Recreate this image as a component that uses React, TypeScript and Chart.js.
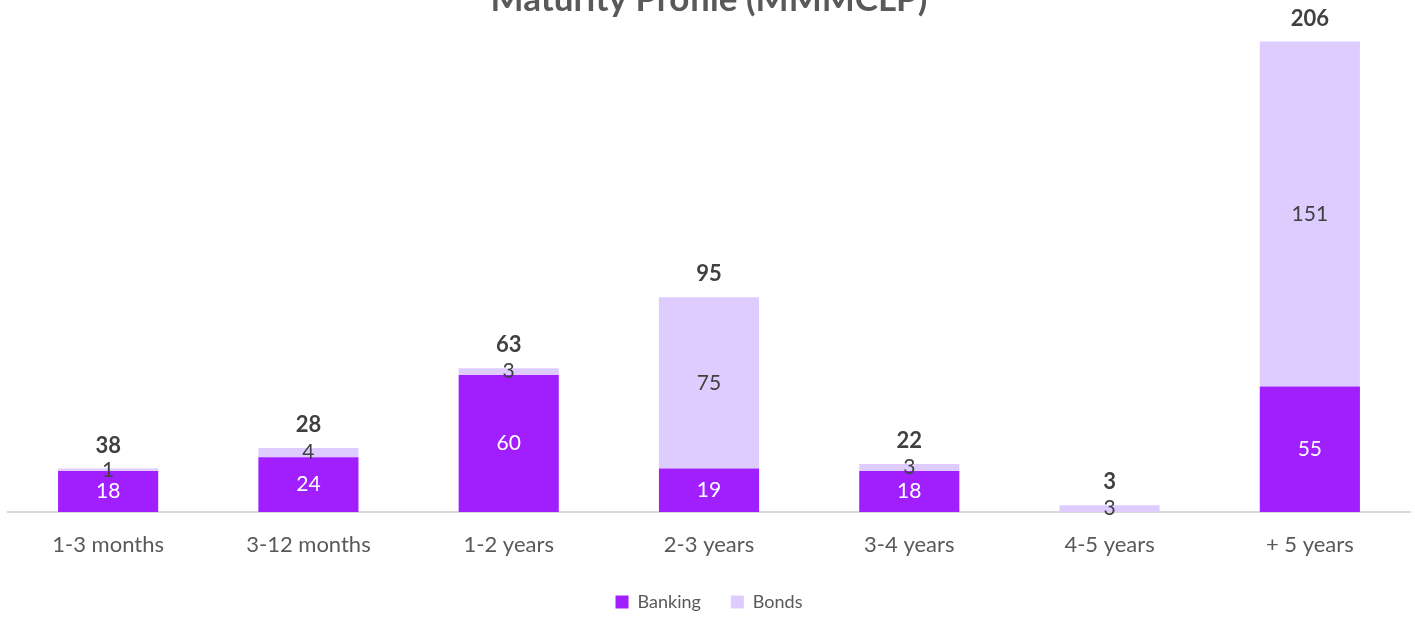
import React, { useEffect, useRef } from "react";
import { Chart, registerables } from "chart.js";

Chart.register(...registerables);

const categories = ["1-3 months", "3-12 months", "1-2 years", "2-3 years", "3-4 years", "4-5 years", "+ 5 years"];
const banking = [18, 24, 60, 19, 18, 0, 55];
const bonds = [1, 4, 3, 75, 3, 3, 151];
const totals = ["38", "28", "63", "95", "22", "3", "206"];
const titleText = "Maturity Profile (MMMCLP)";

const FONT = "Lato, 'Open Sans', sans-serif";
const OFFSET = 31;
const BOTTOM_EXTRA = 2;

const labelPlugin = {
  id: "valueLabels",
  afterDatasetsDraw(chart: any) {
    const ctx = chart.ctx;
    const yScale = chart.scales.y;
    ctx.save();
    ctx.textAlign = "center";
    ctx.textBaseline = "middle";
    chart.data.datasets.forEach((ds: any, di: number) => {
      const meta = chart.getDatasetMeta(di);
      meta.data.forEach((bar: any, i: number) => {
        const v = ds.data[i];
        if (!v) return;
        const mid = (bar.y + bar.base) / 2;
        ctx.font = `21px ${FONT}`;
        ctx.fillStyle = di === 0 ? "#ffffff" : "#404040";
        ctx.fillText(String(v), bar.x, mid);
      });
    });
    const meta0 = chart.getDatasetMeta(0);
    meta0.data.forEach((bar: any, i: number) => {
      const top = yScale.getPixelForValue(banking[i] + bonds[i]);
      ctx.font = `bold 22px ${FONT}`;
      ctx.fillStyle = "#404040";
      ctx.fillText(totals[i], bar.x, top - 23);
    });
    ctx.restore();
  },
};

export default function App() {
  const ref = useRef<HTMLCanvasElement | null>(null);
  useEffect(() => {
    if (!ref.current) return;
    const chart = new Chart(ref.current, {
      type: "bar",
      data: {
        labels: categories,
        datasets: [
          { label: "Banking", data: banking, backgroundColor: "#A11EFF", stack: "s" },
          { label: "Bonds", data: bonds, backgroundColor: "#DECCFF", stack: "s" },
        ],
      },
      options: {
        animation: false,
        responsive: true,
        maintainAspectRatio: false,
        layout: { padding: { left: 8, right: 5, top: 0, bottom: 0 } },
        plugins: {
          title: {
            display: true,
            text: titleText,
            color: "#595959",
            font: { family: FONT, size: 35, weight: "bold" },
            padding: { top: 10, bottom: 0 },
          },
          legend: {
            position: "bottom",
            labels: {
              color: "#595959",
              font: { family: FONT, size: 18 },
              boxWidth: 13,
              boxHeight: 13,
              padding: 30,
            },
          },
          tooltip: { enabled: false },
        },
        scales: {
          x: {
            stacked: true,
            grid: { display: false, drawTicks: false },
            border: { color: "#d9d9d9", width: 2 },
            ticks: { color: "#595959", font: { family: FONT, size: 22 }, padding: 20 },
            afterFit: (scale: any) => {
              scale.height = 51;
            },
          },
          y: {
            stacked: true,
            display: false,
            min: 0,
            max: 215,
          },
        },
        datasets: { bar: { categoryPercentage: 1, barPercentage: 0.5 } },
      } as any,
      plugins: [labelPlugin],
    });
    return () => chart.destroy();
  }, []);

  return (
    <div style={{ position: "absolute", left: 0, top: 0, width: 1415, height: 619, overflow: "hidden", background: "#fff" }}>
      <div style={{ position: "absolute", left: 0, top: -OFFSET, width: 1415, height: 619 + OFFSET + BOTTOM_EXTRA }}>
        <canvas ref={ref} />
      </div>
    </div>
  );
}
